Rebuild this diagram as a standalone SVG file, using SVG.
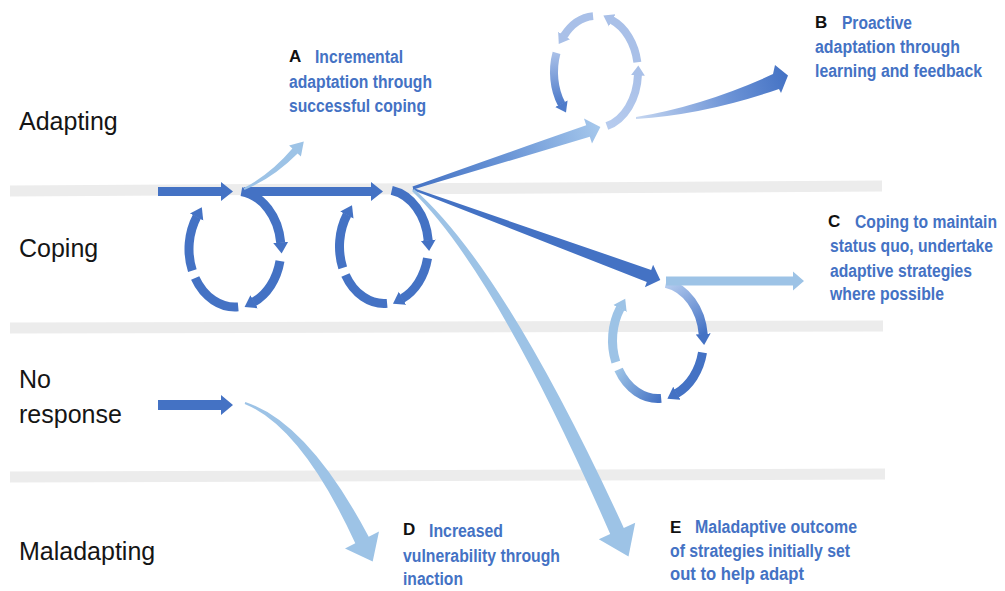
<svg xmlns="http://www.w3.org/2000/svg" width="1005" height="591" viewBox="0 0 1005 591">
<style>
.row{font-family:"Liberation Sans",Arial,sans-serif;font-size:25px;fill:#151515}
.key{font-family:"Liberation Sans",Arial,sans-serif;font-size:17px;font-weight:bold;fill:#111}
.lab{font-family:"Liberation Sans",Arial,sans-serif;font-size:18px;font-weight:bold;fill:#4472c4}
.band{fill:#ececec}
.arc{fill:none;stroke-width:9}
.tarc{fill:none;stroke-width:8}
.dk{stroke:#4472c4}
.lt{stroke:#9dc3e6}
.pl{stroke:#a9c0e8}
</style>
<defs>
<marker id="mDk" viewBox="0 0 12 16" refX="0.5" refY="8" markerWidth="12" markerHeight="16" markerUnits="userSpaceOnUse" orient="auto"><path d="M0,0.5 L11,8 L0,15.5 Z" fill="#4472c4"/></marker>
<marker id="mLt" viewBox="0 0 12 16" refX="0.5" refY="8" markerWidth="12" markerHeight="16" markerUnits="userSpaceOnUse" orient="auto"><path d="M0,0.5 L11,8 L0,15.5 Z" fill="#9dc3e6"/></marker>
<marker id="mPl" viewBox="0 0 12 16" refX="0.5" refY="8" markerWidth="12" markerHeight="16" markerUnits="userSpaceOnUse" orient="auto"><path d="M0,1 L10,8 L0,15 Z" fill="#a9c0e8"/></marker>
<marker id="mMd" viewBox="0 0 12 16" refX="0.5" refY="8" markerWidth="12" markerHeight="16" markerUnits="userSpaceOnUse" orient="auto"><path d="M0,1 L10,8 L0,15 Z" fill="#4e7bca"/></marker>
<linearGradient id="gB1" gradientUnits="userSpaceOnUse" x1="413" y1="188" x2="600" y2="127"><stop offset="0" stop-color="#4472c4"/><stop offset="0.5" stop-color="#6a95d6"/><stop offset="1" stop-color="#a6c8ec"/></linearGradient>
<linearGradient id="gB2" gradientUnits="userSpaceOnUse" x1="636" y1="118" x2="788" y2="76"><stop offset="0" stop-color="#c6d7f1"/><stop offset="0.6" stop-color="#6c93d6"/><stop offset="1" stop-color="#4472c4"/></linearGradient>
<linearGradient id="gR1" gradientUnits="userSpaceOnUse" x1="666" y1="283" x2="703" y2="334"><stop offset="0" stop-color="#b9cff0"/><stop offset="1" stop-color="#4472c4"/></linearGradient>
<linearGradient id="gR3" gradientUnits="userSpaceOnUse" x1="661" y1="398" x2="618" y2="369"><stop offset="0" stop-color="#4472c4"/><stop offset="1" stop-color="#9dc3e6"/></linearGradient>
<linearGradient id="gT4" gradientUnits="userSpaceOnUse" x1="556" y1="53" x2="562" y2="104"><stop offset="0" stop-color="#a9c0e8"/><stop offset="1" stop-color="#4e7bca"/></linearGradient>
<linearGradient id="gT1" gradientUnits="userSpaceOnUse" x1="607" y1="126" x2="638" y2="75"><stop offset="0" stop-color="#b6cbee"/><stop offset="1" stop-color="#a9c0e8"/></linearGradient>
</defs>
<rect width="1005" height="591" fill="#ffffff"/>
<g id="bands">
<polygon class="band" points="10,185.5 882,180.5 882,191.5 10,196.5"/>
<polygon class="band" points="10,322.5 883,320.5 883,331.5 10,333.5"/>
<polygon class="band" points="10,471.5 885,468.5 885,479.5 10,482.5"/>
</g>
<g id="row-labels">
<text class="row" x="19" y="130">Adapting</text>
<text class="row" x="19" y="257">Coping</text>
<text class="row" x="19" y="388">No</text>
<text class="row" x="19" y="423">response</text>
<text class="row" x="19" y="560">Maladapting</text>
</g>
<g id="label-A">
<text class="key" x="289" y="62">A</text>
<text class="lab" x="315" y="63" textLength="88" lengthAdjust="spacingAndGlyphs">Incremental</text>
<text class="lab" x="289" y="87.5" textLength="143" lengthAdjust="spacingAndGlyphs">adaptation through</text>
<text class="lab" x="289" y="112" textLength="137" lengthAdjust="spacingAndGlyphs">successful coping</text>
</g>
<g id="label-B">
<text class="key" x="815" y="28">B</text>
<text class="lab" x="842" y="29" textLength="70" lengthAdjust="spacingAndGlyphs">Proactive</text>
<text class="lab" x="815" y="53" textLength="145" lengthAdjust="spacingAndGlyphs">adaptation through</text>
<text class="lab" x="815" y="77" textLength="167" lengthAdjust="spacingAndGlyphs">learning and feedback</text>
</g>
<g id="label-C">
<text class="key" x="828" y="227">C</text>
<text class="lab" x="855" y="228" textLength="142" lengthAdjust="spacingAndGlyphs">Coping to maintain</text>
<text class="lab" x="830" y="252" textLength="163" lengthAdjust="spacingAndGlyphs">status quo, undertake</text>
<text class="lab" x="830" y="277" textLength="142" lengthAdjust="spacingAndGlyphs">adaptive strategies</text>
<text class="lab" x="830" y="300" textLength="114" lengthAdjust="spacingAndGlyphs">where possible</text>
</g>
<g id="label-D">
<text class="key" x="403" y="535">D</text>
<text class="lab" x="429" y="537" textLength="74" lengthAdjust="spacingAndGlyphs">Increased</text>
<text class="lab" x="403" y="562" textLength="157" lengthAdjust="spacingAndGlyphs">vulnerability through</text>
<text class="lab" x="403" y="585" textLength="60" lengthAdjust="spacingAndGlyphs">inaction</text>
</g>
<g id="label-E">
<text class="key" x="670" y="533">E</text>
<text class="lab" x="695" y="533" textLength="162" lengthAdjust="spacingAndGlyphs">Maladaptive outcome</text>
<text class="lab" x="670" y="557" textLength="180" lengthAdjust="spacingAndGlyphs">of strategies initially set</text>
<text class="lab" x="670" y="580" textLength="134" lengthAdjust="spacingAndGlyphs">out to help adapt</text>
</g>
<g id="cycle-1">
<path class="arc dk" d="M241.4,191.56 A46,58 0 0 1 280.75,242.94" marker-end="url(#mDk)"/>
<path class="arc dk" d="M279.99,261.06 A46,58 0 0 1 253.71,301.98" marker-end="url(#mDk)"/>
<path class="arc dk" d="M238.21,306.86 A46,58 0 0 1 195.16,278"/>
<path class="arc dk" d="M192.35,270.73 A46,58 0 0 1 196.87,216.57" marker-end="url(#mDk)"/>
</g>
<g id="cycle-2">
<path class="arc dk" d="M391.73,190.37 A44.5,57 0 0 1 428.26,240.54" marker-end="url(#mDk)"/>
<path class="arc dk" d="M427.53,258.35 A44.5,57 0 0 1 402.1,298.57" marker-end="url(#mDk)"/>
<path class="arc dk" d="M387.11,303.36 A44.5,57 0 0 1 345.46,275"/>
<path class="arc dk" d="M342.74,267.85 A44.5,57 0 0 1 347.11,214.63" marker-end="url(#mDk)"/>
</g>
<g id="cycle-top">
<path class="tarc" stroke="url(#gT1)" d="M606.87,126.09 A42,56 0 0 0 637.94,74.93" marker-end="url(#mPl)"/>
<path class="tarc pl" d="M637.36,62.28 A42,56 0 0 0 611.73,20.08" marker-end="url(#mPl)"/>
<path class="tarc pl" d="M593.07,16.14 A42,56 0 0 0 563.83,36" marker-end="url(#mPl)"/>
<path class="tarc" stroke="url(#gT4)" d="M556.53,52.85 A42,56 0 0 0 561.59,104.12" marker-end="url(#mMd)"/>
</g>
<g id="cycle-right">
<path class="arc" stroke="url(#gR1)" d="M665.9,283.38 A45.5,58 0 0 1 703.25,334.44" marker-end="url(#mDk)"/>
<path class="arc dk" d="M702.5,352.56 A45.5,58 0 0 1 676.5,393.48" marker-end="url(#mDk)"/>
<path class="arc" stroke="url(#gR3)" d="M661.18,398.36 A45.5,58 0 0 1 618.6,369.5"/>
<path class="arc lt" d="M615.81,362.23 A45.5,58 0 0 1 620.28,308.07" marker-end="url(#mLt)"/>
</g>
<g id="connectors">
<path fill="#4472c4" d="M158,187 L221,187 L221,182 L233,191.5 L221,201 L221,196 L158,196 Z"/>
<path fill="#4472c4" d="M244,187 L371,187 L371,182 L383,191.5 L371,201 L371,196 L244,196 Z"/>
<path fill="#4472c4" d="M158,400 L221,400 L221,395 L233,405 L221,415 L221,410 L158,410 Z"/>
<path fill="#9dc3e6" d="M243.6,188.1 Q270.7,174.2 292.4,148.6 L289.1,145.6 L303.8,141.4 L300.9,156.4 L297.6,153.4 Q273.3,177.8 244.4,189.9 Z"/>
<path fill="url(#gB1)" d="M412.5,186.6 Q478.9,162.7 586.2,125.3 L584,118.6 L600.4,127 L592,143.4 L589.8,136.7 Q481.1,169.3 413.5,189.4 Z"/>
<path fill="url(#gB2)" d="M636,117 Q703.8,105.7 773,74.1 L775,65 L788,75.5 L781,93 L779,88.9 Q706.2,114.3 636,119 Z"/>
<path fill="#4472c4" d="M413.3,188.1 L651.2,269.9 L653.1,264.7 L660.3,280.1 L644.9,287.3 L646.8,282.1 L412.7,189.9 Z"/>
<path fill="#9dc3e6" d="M666,276.5 L793,276.5 L793,271.5 L804,281 L793,290.5 L793,285.5 L666,285.5 Z"/>
<path fill="#9dc3e6" d="M414,188.9 Q503.9,267.7 623.8,527.9 L635.2,522.8 L628.5,556.5 L598.8,539.2 L610.2,534.1 Q496.1,272.3 412,191.1 Z"/>
<path fill="#9dc3e6" d="M245.3,402.1 Q308,422.4 368.7,536.7 L379,531.6 L372.7,561.5 L345,548.4 L355.3,543.3 Q302,427.6 244.7,403.9 Z"/>
</g>
</svg>
